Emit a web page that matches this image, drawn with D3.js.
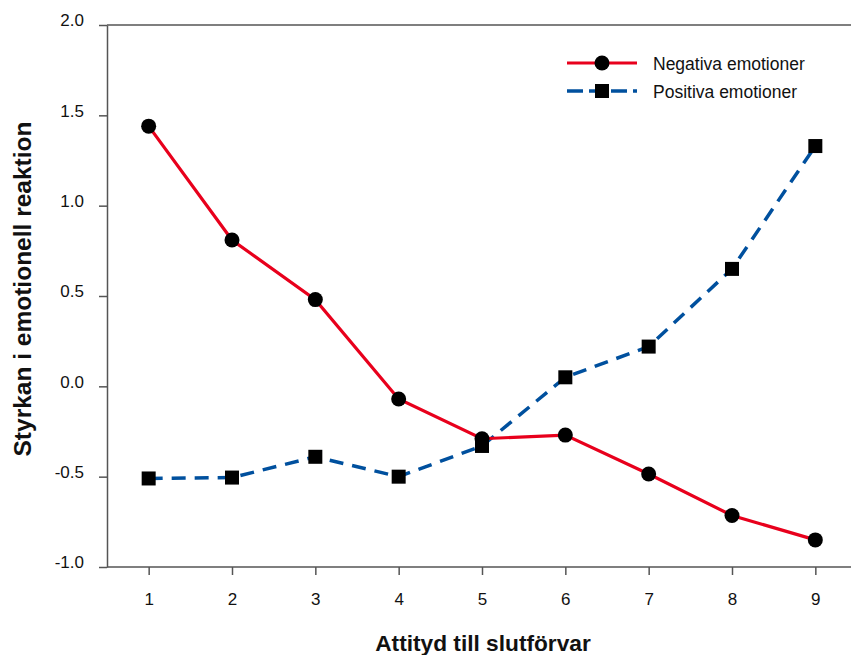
<!DOCTYPE html>
<html>
<head>
<meta charset="utf-8">
<script src="https://cdn.jsdelivr.net/npm/d3@7"></script>
<style>
  html, body { margin: 0; padding: 0; background: #fff; }
  svg { display: block; font-family: "Liberation Sans", Arial, Helvetica, sans-serif; }
</style>
</head>
<body>
<svg id="chart" width="851" height="655"></svg>
<script>
const attitude = [1, 2, 3, 4, 5, 6, 7, 8, 9];
const negativa = [1.44, 0.81, 0.48, -0.07, -0.29, -0.27, -0.485, -0.715, -0.85];
const positiva = [-0.51, -0.505, -0.39, -0.50, -0.33, 0.05, 0.22, 0.65, 1.33];
const seriesNames = ["Negativa emotioner", "Positiva emotioner"];
const yTicks = [-1.0, -0.5, 0.0, 0.5, 1.0, 1.5, 2.0];
const xTitle = "Attityd till slutförvar";
const yTitle = "Styrkan i emotionell reaktion";

const svg = d3.select("#chart");
const W = 851;
const x = d3.scaleLinear().domain([0.5, 9.5]).range([107, 857]);
const y = d3.scaleLinear().domain([-1, 2]).range([567, 25]);
const axisColor = "#555";
const red = "#e8001c";
const blue = "#00509e";
const fmtY = d => d3.format(".1f")(d).replace("\u2212", "-");

// top frame line
svg.append("line")
  .attr("x1", x(0.5)).attr("x2", W)
  .attr("y1", y(2)).attr("y2", y(2))
  .attr("stroke", axisColor).attr("stroke-width", 1.5);

// y axis
const yAxis = svg.append("g")
  .attr("transform", `translate(${x(0.5)},0)`)
  .call(d3.axisLeft(y).tickValues(yTicks).tickSize(8).tickSizeOuter(0).tickPadding(15)
        .tickFormat(fmtY));
yAxis.select(".domain").attr("stroke", axisColor).attr("stroke-width", 1.5);
yAxis.selectAll(".tick line").attr("stroke", axisColor).attr("stroke-width", 1.5);
yAxis.selectAll(".tick text").attr("font-size", 17).attr("fill", "#111").attr("dy", "0.05em")
  .style("font-family", "Liberation Sans, Arial, sans-serif");

// x axis
const xAxis = svg.append("g")
  .attr("transform", `translate(0,${y(-1)})`)
  .call(d3.axisBottom(x).tickValues(attitude).tickSize(8).tickSizeOuter(0).tickPadding(18)
        .tickFormat(d3.format("d")));
xAxis.select(".domain").remove();
xAxis.append("line").attr("x1", x(0.5)).attr("x2", W).attr("y1", 0).attr("y2", 0)
  .attr("stroke", axisColor).attr("stroke-width", 1.5);
xAxis.selectAll(".tick line").attr("stroke", axisColor).attr("stroke-width", 1.5);
xAxis.selectAll(".tick text").attr("font-size", 17).attr("fill", "#111")
  .style("font-family", "Liberation Sans, Arial, sans-serif");

// titles
svg.append("text")
  .attr("x", 483).attr("y", 651)
  .attr("text-anchor", "middle")
  .attr("font-size", 22.7).attr("font-weight", "bold").attr("fill", "#111")
  .text(xTitle);
svg.append("text")
  .attr("transform", `translate(31,289) rotate(-90)`)
  .attr("text-anchor", "middle")
  .attr("font-size", 24.5).attr("font-weight", "bold").attr("fill", "#111")
  .text(yTitle);

// lines
const line = d3.line().x((d, i) => x(attitude[i])).y(d => y(d));
svg.append("path").datum(positiva)
  .attr("d", line).attr("fill", "none")
  .attr("stroke", blue).attr("stroke-width", 3.5).attr("stroke-dasharray", "14,9");
svg.append("path").datum(negativa)
  .attr("d", line).attr("fill", "none")
  .attr("stroke", red).attr("stroke-width", 3.2);

// markers
const sq = 14;
svg.append("g").selectAll("rect").data(positiva).join("rect")
  .attr("x", (d, i) => x(attitude[i]) - sq / 2)
  .attr("y", d => y(d) - sq / 2)
  .attr("width", sq).attr("height", sq).attr("fill", "#000");
svg.append("g").selectAll("circle").data(negativa).join("circle")
  .attr("cx", (d, i) => x(attitude[i]))
  .attr("cy", d => y(d))
  .attr("r", 7.5).attr("fill", "#000");

// legend
const legend = svg.append("g");
const legendRows = [
  { name: seriesNames[0], color: red, dash: null, shape: "circle", cy: 63 },
  { name: seriesNames[1], color: blue, dash: "16,6", shape: "rect", cy: 91 }
];
legendRows.forEach(r => {
  legend.append("line")
    .attr("x1", 567).attr("x2", 637)
    .attr("y1", r.cy).attr("y2", r.cy)
    .attr("stroke", r.color).attr("stroke-width", r.dash ? 3.5 : 3.2)
    .attr("stroke-dasharray", r.dash);
  if (r.shape === "circle") {
    legend.append("circle").attr("cx", 602).attr("cy", r.cy).attr("r", 7.5).attr("fill", "#000");
  } else {
    legend.append("rect").attr("x", 602 - sq / 2).attr("y", r.cy - sq / 2)
      .attr("width", sq).attr("height", sq).attr("fill", "#000");
  }
  legend.append("text").attr("x", 653).attr("y", r.cy + 6.5)
    .attr("font-size", 17.5).attr("fill", "#111").text(r.name);
});
</script>
</body>
</html>
